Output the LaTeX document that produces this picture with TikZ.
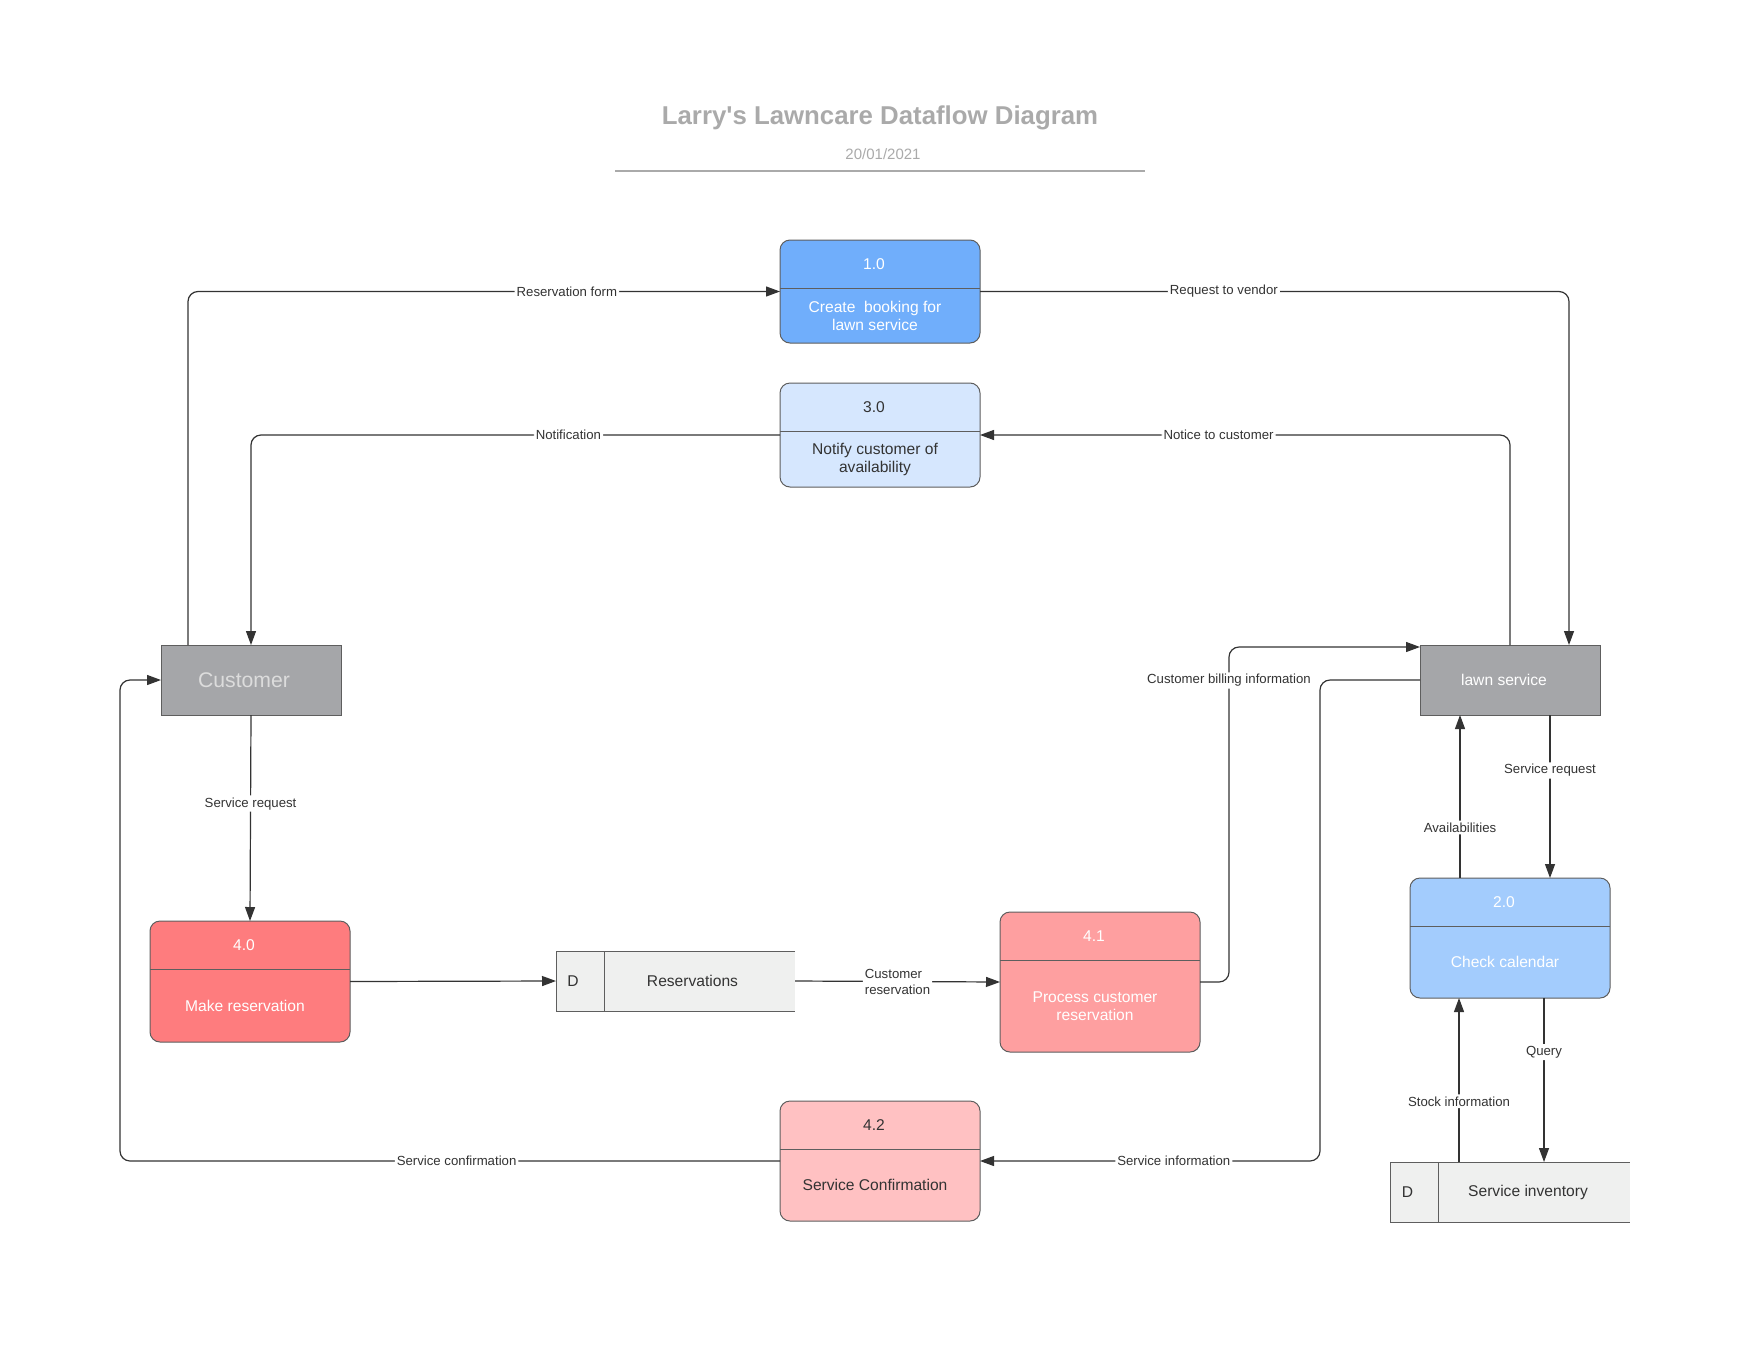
\documentclass[tikz,border=0pt]{standalone}
\usepackage{fontspec}
\setmainfont{Liberation Sans}
\usepackage{xcolor}
\usetikzlibrary{arrows.meta,positioning,calc}

\definecolor{linegray}{HTML}{333333}
\definecolor{boxline}{HTML}{5E5E5E}
\definecolor{titlegray}{HTML}{AAAAAA}
\definecolor{fillA}{HTML}{70AEFB}
\definecolor{fillB}{HTML}{D6E7FE}
\definecolor{fillC}{HTML}{A3CCFD}
\definecolor{fillD}{HTML}{FE7C7E}
\definecolor{fillE}{HTML}{FE9FA0}
\definecolor{fillF}{HTML}{FFC1C2}
\definecolor{entfill}{HTML}{A5A6A9}
\definecolor{storefill}{HTML}{EFF0EF}
\definecolor{custtext}{HTML}{DCDCDC}

% process box: name, fill, text colour, centre x, top y, bottom y, number, text
\newcommand{\procbox}[8]{%
  \node[proc, fill=#2, minimum height={(#6-#5)*0.5pt}] (#1) at (#4,{(#5+#6)/2}) {};
  \draw[boxline, line width=0.5pt] (#4-100,#5+48) -- (#4+100,#5+48);
  \node[text=#3] at (#4-6,#5+24) {#7};
  \node[text=#3, align=center] at (#4-5,{(#5+48+#6)/2}) {#8};
}

\begin{document}
\begin{tikzpicture}[
  x=0.5pt, y=-0.5pt,
  every node/.style={font=\fontsize{7.8}{9}\selectfont},
  proc/.style  ={draw=boxline, line width=0.5pt, rounded corners=5pt,
                 minimum width=100pt, inner sep=0pt, outer sep=0pt},
  entity/.style={draw=boxline, line width=0.5pt, fill=entfill,
                 minimum width=90pt, minimum height=35pt, inner sep=0pt, outer sep=0pt},
  store/.style ={fill=storefill, minimum width=119.5pt, minimum height=30pt,
                 inner sep=0pt, outer sep=0pt},
  storeline/.style={draw=boxline, line width=0.5pt},
  flow/.style  ={draw=linegray, line width=0.6pt, rounded corners=5pt,
                 -{Triangle[length=7pt, width=5pt]}},
  lbl/.style   ={fill=white, inner sep=1pt, text=linegray,
                 font=\fontsize{6.6}{8}\selectfont},
]
  \useasboundingbox[fill=white] (0,0) rectangle (1760,1360);

  % title block
  \node[text=titlegray, font=\bfseries\fontsize{12.9}{15}\selectfont] (title) at (880,118)
       {Larry\textquotesingle s Lawncare Dataflow Diagram};
  \node[text=titlegray, font=\fontsize{7.5}{9}\selectfont] (date) at (883,154) {20/01/2021};
  \draw[titlegray, line width=1pt] (615,171) -- (1145,171);

  % processes
  \procbox{p10}{fillA}{white}{880}{240}{343}{1.0}{Create~ booking for\\lawn service}
  \procbox{p30}{fillB}{linegray}{880}{383}{487}{3.0}{Notify customer of\\availability}
  \procbox{p40}{fillD}{white}{250}{921}{1042}{4.0}{Make reservation}
  \procbox{p41}{fillE}{white}{1100}{912}{1052}{4.1}{Process customer\\reservation}
  \procbox{p42}{fillF}{linegray}{880}{1101}{1221}{4.2}{Service Confirmation}
  \procbox{p20}{fillC}{white}{1510}{878}{998}{2.0}{Check calendar}

  % external entities
  \node[entity] (cust) at (251,680) {};
  \node[text=custtext, font=\fontsize{10.6}{12}\selectfont] at ($(cust.center)+(-7,0)$) {Customer};
  \node[entity] (lawn) at (1510,680) {};
  \node[text=white] at ($(lawn.center)+(-6,0)$) {lawn service};

  % data stores
  \node[store] (res) at (675.5,981) {};
  \draw[storeline] (res.north east) -- (res.north west) -- (res.south west) -- (res.south east);
  \draw[storeline] ($(res.north west)+(48,0)$) -- ($(res.south west)+(48,0)$);
  \node[text=linegray] at ($(res.west)+(17,0)$) {D};
  \node[text=linegray] at ($(res.center)+(17,0)$) {Reservations};

  \node[store] (inv) at (1510,1192) {};
  \draw[storeline] (inv.north east) -- (inv.north west) -- (inv.south west) -- (inv.south east);
  \draw[storeline] ($(inv.north west)+(48,0)$) -- ($(inv.south west)+(48,0)$);
  \node[text=linegray] at ($(inv.west)+(17,0)$) {D};
  \node[text=linegray] at ($(inv.center)+(18,0)$) {Service inventory};

  % data flows
  \draw[flow] ($(cust.north west)+(27,0)$) |- node[lbl, pos=0.82] {Reservation form} (p10.west);
  \draw[flow] (p10.east) -| node[lbl, pos=0.207] {Request to vendor} ($(lawn.north east)+(-31,0)$);
  \draw[flow] (lawn.north) |- node[lbl, pos=0.775] {Notice to customer} (p30.east);
  \draw[flow] (p30.west) -| node[lbl, pos=0.2] {Notification} (cust.north);
  \draw[flow] (cust.south) -- node[lbl, pos=0.43] {Service request} (p40.north);
  \draw[flow] (p40.east) -- (res.west);
  \draw[flow] (res.east) -- node[lbl, align=left, pos=0.5] {Customer\\reservation} (p41.west);
  \draw[flow] (p41.east) -- ++(29,0) |- node[lbl, pos=0.45] {Customer billing information}
              ($(lawn.west)+(0,-33)$);
  \draw[flow] (lawn.west) -- ++(-100,0) |- node[lbl, pos=0.715] {Service information} (p42.east);
  \draw[flow] (p42.west) -- node[lbl, pos=0.49] {Service confirmation} ++(-660,0) |- (cust.west);
  \draw[flow] ($(lawn.south)+(40,0)$) -- node[lbl, pos=0.34] {Service request} ($(p20.north)+(40,0)$);
  \draw[flow] ($(p20.north)+(-50,0)$) -- node[lbl, pos=0.31] {Availabilities} ($(lawn.south)+(-50,0)$);
  \draw[flow] ($(p20.south)+(34,0)$) -- node[lbl, pos=0.33] {Query} ($(inv.north)+(34,0)$);
  \draw[flow] ($(inv.north)+(-51,0)$) -- node[lbl, pos=0.37] {Stock information} ($(p20.south)+(-51,0)$);
\end{tikzpicture}
\end{document}
